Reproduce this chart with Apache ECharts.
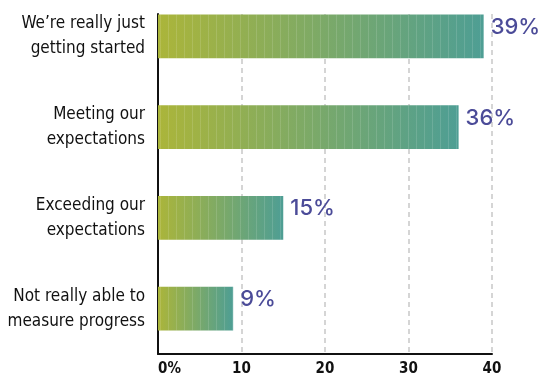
<!DOCTYPE html>
<html>
<head>
<meta charset="utf-8">
<script src="https://cdn.jsdelivr.net/npm/echarts@6/dist/echarts.min.js"></script>
<style>
  html, body { margin: 0; padding: 0; background: #fff; }
  #chart { width: 540px; height: 377px; }
</style>
</head>
<body>
<div id="chart"></div>
<script>
// Survey answers, top to bottom
var categories = [
  "We\u2019re really just\ngetting started",
  "Meeting our\nexpectations",
  "Exceeding our\nexpectations",
  "Not really able to\nmeasure progress"
];
var shares = [39, 36, 15, 9];
var axisTicks = [0, 10, 20, 30, 40];

var barGradient = new echarts.graphic.LinearGradient(0, 0, 1, 0, [
  { offset: 0, color: '#abb53a' },
  { offset: 1, color: '#4e9e94' }
]);

var chart = echarts.init(document.getElementById('chart'), null, { renderer: 'canvas' });

chart.setOption({
  animation: false,
  backgroundColor: '#ffffff',
  grid: [
    // bars and labels
    { left: 158, right: 48, top: -9, bottom: 23, containLabel: false, outerBoundsMode: 'none' },
    // dashed guides and the vertical axis line
    { left: 158, right: 48, top: 14, bottom: 23, containLabel: false, outerBoundsMode: 'none' }
  ],
  xAxis: [
    {
      gridIndex: 0,
      type: 'value',
      min: axisTicks[0],
      max: axisTicks[axisTicks.length - 1],
      interval: 10,
      axisLine: { show: true, lineStyle: { color: '#111', width: 2 } },
      axisTick: { show: false },
      splitLine: { show: false },
      axisLabel: {
        margin: 8,
        color: '#111',
        alignMinLabel: 'left',
        fontFamily: '"Liberation Sans Narrow", "DejaVu Sans Condensed", sans-serif',
        fontWeight: 'bold',
        fontSize: 15,
        formatter: function (v) { return v === 0 ? '0%' : String(v); }
      }
    },
    {
      gridIndex: 1,
      type: 'value',
      min: axisTicks[0],
      max: axisTicks[axisTicks.length - 1],
      interval: 10,
      axisLine: { show: false },
      axisTick: { show: false },
      axisLabel: { show: false },
      splitLine: { show: true, lineStyle: { color: '#c8c8c8', type: [5, 4], width: 1.5 } }
    }
  ],
  yAxis: [
    {
      gridIndex: 0,
      type: 'category',
      inverse: true,
      data: categories,
      axisLine: { show: false },
      axisTick: { show: false },
      axisLabel: {
        margin: 13,
        color: '#111',
        fontFamily: '"Liberation Sans Narrow", "DejaVu Sans Condensed", sans-serif',
        fontSize: 17,
        lineHeight: 25,
        align: 'right'
      }
    },
    {
      gridIndex: 1,
      type: 'value',
      min: 0,
      max: 1,
      axisLine: { show: true, lineStyle: { color: '#111', width: 2 } },
      axisTick: { show: false },
      axisLabel: { show: false },
      splitLine: { show: false }
    }
  ],
  series: [
    {
      type: 'bar',
      xAxisIndex: 0,
      yAxisIndex: 0,
      data: shares,
      barWidth: '48%',
      itemStyle: {
        color: barGradient,
        decal: {
          symbol: 'rect',
          color: 'rgba(255,255,255,0.13)',
          dashArrayX: [1, 7],
          dashArrayY: [4, 0],
          symbolSize: 1,
          rotation: 0
        }
      },
      label: {
        show: true,
        position: 'right',
        distance: 7,
        offset: [0, -9],
        color: '#4b4b98',
        fontFamily: 'Inter, "Noto Sans", sans-serif',
        fontWeight: 500,
        fontSize: 22,
        formatter: function (p) { return p.value + '%'; }
      }
    }
  ]
});
</script>
</body>
</html>
